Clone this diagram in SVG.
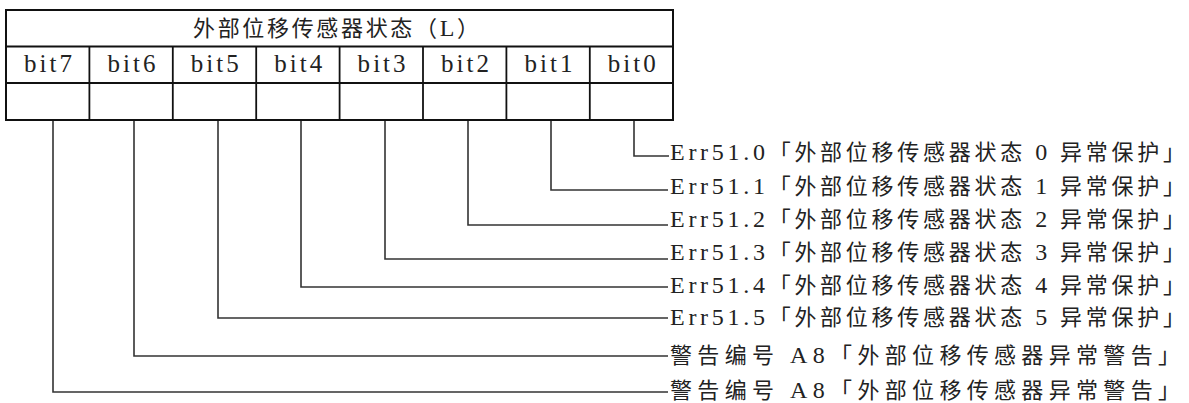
<svg xmlns="http://www.w3.org/2000/svg" width="1189" height="403" viewBox="0 0 1189 403">
<style>
.bg{fill:#fff}
.cell{fill:none;stroke:#111;stroke-width:2}
.grid{stroke:#111;stroke-width:1.8;fill:none}
.conn{fill:none;stroke:#333;stroke-width:1.6}
.t{font-family:"Liberation Serif","Noto Sans CJK SC",serif;font-size:22px;fill:#222}
.l{font-size:24px}
.b{font-family:"Liberation Serif","Noto Sans CJK SC",serif;font-size:25px;fill:#222;text-anchor:middle}
.c{text-anchor:middle}
</style>
<rect class="bg" x="0" y="0" width="1189" height="403"/>
<g id="table">
<rect class="cell" x="6" y="10" width="667" height="110"/>
<line class="grid" x1="6" y1="46.5" x2="673" y2="46.5"/>
<line class="grid" x1="6" y1="83" x2="673" y2="83"/>
<line class="grid" x1="89.4" y1="46.5" x2="89.4" y2="120"/>
<line class="grid" x1="172.8" y1="46.5" x2="172.8" y2="120"/>
<line class="grid" x1="256.2" y1="46.5" x2="256.2" y2="120"/>
<line class="grid" x1="339.6" y1="46.5" x2="339.6" y2="120"/>
<line class="grid" x1="423" y1="46.5" x2="423" y2="120"/>
<line class="grid" x1="506.4" y1="46.5" x2="506.4" y2="120"/>
<line class="grid" x1="589.8" y1="46.5" x2="589.8" y2="120"/>
<text class="t c" x="336" y="36" textLength="286" lengthAdjust="spacing">外部位移传感器状态（<tspan class="l">L</tspan>）</text>
</g>
<g id="bit7"><text class="b" x="48" y="72" textLength="48" lengthAdjust="spacing">bit7</text></g>
<g id="bit6"><text class="b" x="131.4" y="72" textLength="48" lengthAdjust="spacing">bit6</text></g>
<g id="bit5"><text class="b" x="214.8" y="72" textLength="48" lengthAdjust="spacing">bit5</text></g>
<g id="bit4"><text class="b" x="298.2" y="72" textLength="48" lengthAdjust="spacing">bit4</text></g>
<g id="bit3"><text class="b" x="381.6" y="72" textLength="48" lengthAdjust="spacing">bit3</text></g>
<g id="bit2"><text class="b" x="465" y="72" textLength="48" lengthAdjust="spacing">bit2</text></g>
<g id="bit1"><text class="b" x="548.4" y="72" textLength="48" lengthAdjust="spacing">bit1</text></g>
<g id="bit0"><text class="b" x="631.8" y="72" textLength="48" lengthAdjust="spacing">bit0</text></g>
<g id="connectors">
<polyline class="conn" points="634,121 634,156 669,156"/>
<polyline class="conn" points="551,121 551,190 668,190"/>
<polyline class="conn" points="468,121 468,225 668,225"/>
<polyline class="conn" points="385,121 385,259 668,259"/>
<polyline class="conn" points="301,121 301,287 668,287"/>
<polyline class="conn" points="218,121 218,318 668,318"/>
<polyline class="conn" points="134,121 134,356 668,356"/>
<polyline class="conn" points="53,121 53,392 668,392"/>
</g>
<g id="label0"><text class="t" x="670" y="160" textLength="515" lengthAdjust="spacing"><tspan class="l">Err51.0</tspan>「外部位移传感器状态 <tspan class="l">0</tspan> 异常保护」</text></g>
<g id="label1"><text class="t" x="670" y="193.5" textLength="515" lengthAdjust="spacing"><tspan class="l">Err51.1</tspan>「外部位移传感器状态 <tspan class="l">1</tspan> 异常保护」</text></g>
<g id="label2"><text class="t" x="670" y="227" textLength="515" lengthAdjust="spacing"><tspan class="l">Err51.2</tspan>「外部位移传感器状态 <tspan class="l">2</tspan> 异常保护」</text></g>
<g id="label3"><text class="t" x="670" y="260" textLength="515" lengthAdjust="spacing"><tspan class="l">Err51.3</tspan>「外部位移传感器状态 <tspan class="l">3</tspan> 异常保护」</text></g>
<g id="label4"><text class="t" x="670" y="293" textLength="515" lengthAdjust="spacing"><tspan class="l">Err51.4</tspan>「外部位移传感器状态 <tspan class="l">4</tspan> 异常保护」</text></g>
<g id="label5"><text class="t" x="670" y="325" textLength="515" lengthAdjust="spacing"><tspan class="l">Err51.5</tspan>「外部位移传感器状态 <tspan class="l">5</tspan> 异常保护」</text></g>
<g id="label6"><text class="t" x="670" y="363" textLength="510" lengthAdjust="spacing">警告编号 <tspan class="l">A8</tspan>「外部位移传感器异常警告」</text></g>
<g id="label7"><text class="t" x="670" y="398" textLength="510" lengthAdjust="spacing">警告编号 <tspan class="l">A8</tspan>「外部位移传感器异常警告」</text></g>
</svg>
